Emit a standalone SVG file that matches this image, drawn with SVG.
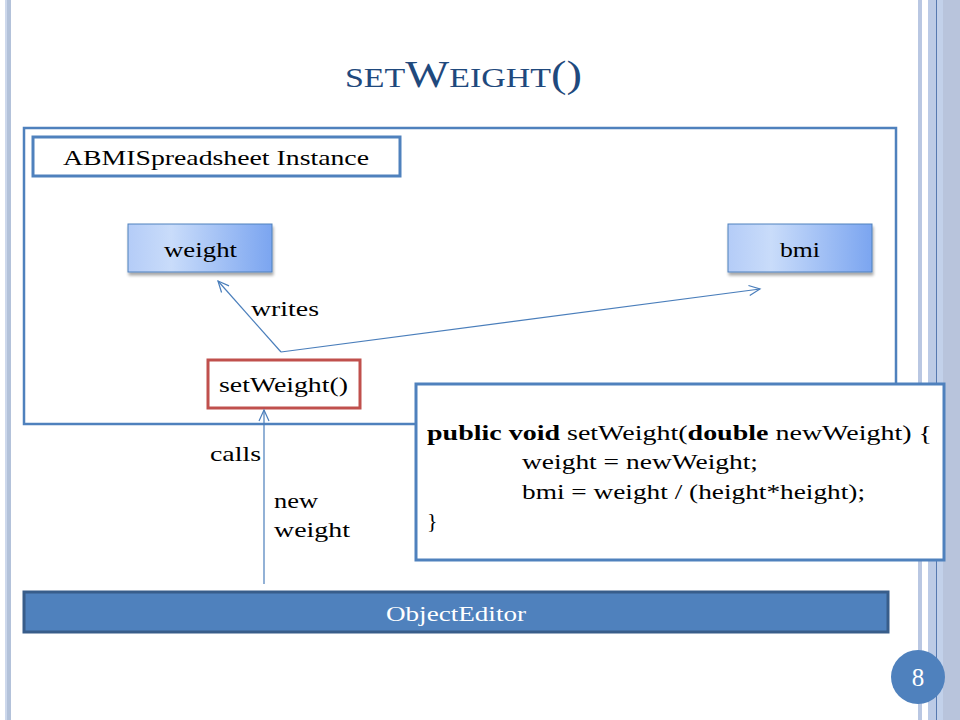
<svg xmlns="http://www.w3.org/2000/svg" width="960" height="720" viewBox="0 0 960 720">
<defs>
<style>
.t{font-family:"Liberation Serif","Times New Roman",serif;font-size:22px;fill:#000}
.frame{fill:none;stroke:#4f81bd;stroke-width:2.5}
.var{fill:url(#g);stroke:#4f81bd;stroke-width:1}
.conn{fill:none;stroke:#4a7ebb;stroke-width:1.2}
.w{fill:#fff}
</style>
<linearGradient id="g" x1="0" y1="0" x2="1" y2="0">
<stop offset="0" stop-color="#b4ccf7"/>
<stop offset="0.3" stop-color="#c9dcfa"/>
<stop offset="1" stop-color="#7ba5f0"/>
</linearGradient>
<filter id="sh" x="-10%" y="-10%" width="130%" height="140%">
<feGaussianBlur in="SourceAlpha" stdDeviation="1.5"/>
<feOffset dx="1" dy="3"/>
<feComponentTransfer><feFuncA type="linear" slope="0.35"/></feComponentTransfer>
<feMerge><feMergeNode/><feMergeNode in="SourceGraphic"/></feMerge>
</filter>
<marker id="arr" markerWidth="14" markerHeight="12" refX="12" refY="6" orient="auto" markerUnits="userSpaceOnUse">
<polyline points="1,1 12,6 1,11" fill="none" stroke="#4a7ebb" stroke-width="1.2"/>
</marker>
</defs>
<rect width="960" height="720" fill="#fff"/>
<g id="decor">
<rect x="5" y="0" width="2" height="720" fill="#cdd8ec"/>
<rect x="7" y="0" width="4" height="720" fill="#b3c2da"/>
<rect x="918" y="0" width="4" height="720" fill="#b9c7e2"/>
<rect x="928" y="0" width="8" height="720" fill="#bccbe6"/>
<rect x="936" y="0" width="1.2" height="720" fill="#5679b0"/>
<rect x="937" y="0" width="6" height="720" fill="#c2d1ea"/>
<rect x="943" y="0" width="17" height="720" fill="#b8c4dc"/>
</g>
<g id="title">
<text x="345" y="87" textLength="237" lengthAdjust="spacingAndGlyphs" font-family="Liberation Serif,Times New Roman,serif" fill="#1f497d"><tspan font-size="27">SET</tspan><tspan font-size="37">W</tspan><tspan font-size="27">EIGHT</tspan><tspan font-size="37">()</tspan></text>
</g>
<g id="instance">
<rect x="24" y="128" width="872" height="296" class="frame" fill="#fff"/>
</g>
<g id="instance-label">
<rect x="33" y="137" width="367" height="39" fill="#fff" stroke="#4f81bd" stroke-width="3"/>
<text x="63" y="165" textLength="306" lengthAdjust="spacingAndGlyphs" class="t">ABMISpreadsheet Instance</text>
</g>
<g id="weight">
<rect x="128" y="224" width="144" height="48" class="var" filter="url(#sh)"/>
<text x="164" y="257" textLength="73" lengthAdjust="spacingAndGlyphs" class="t">weight</text>
</g>
<g id="bmi">
<rect x="728" y="224" width="144" height="48" class="var" filter="url(#sh)"/>
<text x="780" y="257" textLength="40" lengthAdjust="spacingAndGlyphs" class="t">bmi</text>
</g>
<g id="setWeight">
<rect x="208" y="360" width="152" height="48" fill="#fff" stroke="#c0504d" stroke-width="3"/>
<text x="219" y="392" textLength="129" lengthAdjust="spacingAndGlyphs" class="t">setWeight()</text>
</g>
<g id="code">
<rect x="416" y="384" width="528" height="176" fill="#fff" stroke="#4f81bd" stroke-width="3"/>
<text class="t" x="427" y="440" textLength="505" lengthAdjust="spacingAndGlyphs"><tspan font-weight="bold">public void</tspan> setWeight(<tspan font-weight="bold">double</tspan> newWeight) {</text>
<text class="t" x="522" y="469" textLength="236" lengthAdjust="spacingAndGlyphs">weight = newWeight;</text>
<text class="t" x="522" y="499" textLength="343" lengthAdjust="spacingAndGlyphs">bmi = weight / (height*height);</text>
<text class="t" x="427" y="528">}</text>
</g>
<g id="objecteditor">
<rect x="24" y="592" width="864" height="40" fill="#4f81bd" stroke="#385d8a" stroke-width="3"/>
<text x="386" y="621" textLength="140" lengthAdjust="spacingAndGlyphs" class="t w">ObjectEditor</text>
</g>
<g id="connectors">
<polyline points="281,352 218,281" class="conn" marker-end="url(#arr)"/>
<polyline points="281,352 760,289" class="conn" marker-end="url(#arr)"/>
<line x1="264" y1="584" x2="264" y2="410" class="conn" marker-end="url(#arr)"/>
<text x="251" y="316" textLength="68" lengthAdjust="spacingAndGlyphs" class="t">writes</text>
<text x="210" y="461" textLength="51" lengthAdjust="spacingAndGlyphs" class="t">calls</text>
<text x="274" y="508" textLength="44" lengthAdjust="spacingAndGlyphs" class="t">new</text>
<text x="274" y="537" textLength="76" lengthAdjust="spacingAndGlyphs" class="t">weight</text>
</g>
<g id="page">
<circle cx="918" cy="677" r="27" fill="#4f81bd"/>
<text x="918" y="686" text-anchor="middle" class="t w" style="font-size:25px">8</text>
</g>
</svg>
